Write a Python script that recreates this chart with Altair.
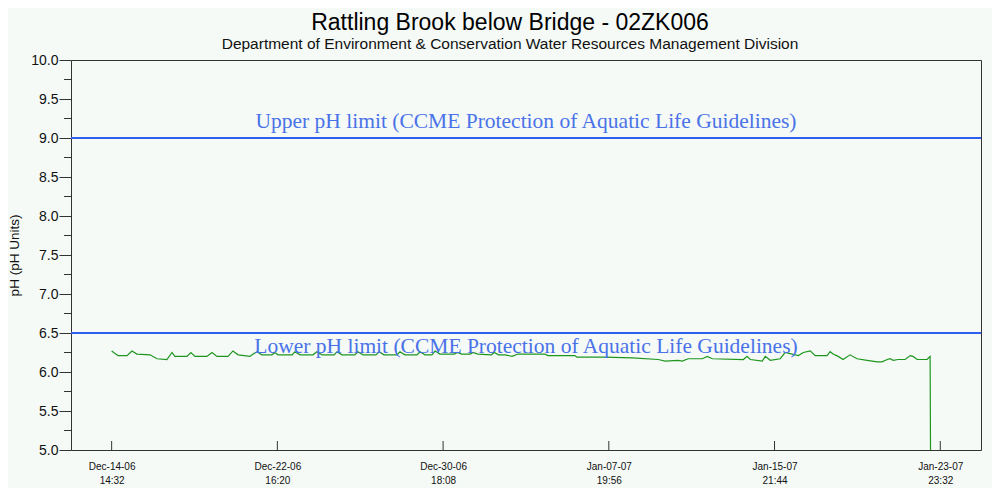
import altair as alt
import pandas as pd

# --- data ---
START = "2006-12-14 14:32"
# elapsed days since the first reading
day_offsets = [
    0.00, 0.31, 0.75, 0.99, 1.23, 1.87, 2.21, 2.69, 2.94, 3.08, 3.67, 3.86, 4.06,
    4.64, 4.89, 5.13, 5.67, 5.91, 6.16, 6.74, 6.84, 7.08, 7.32, 7.81, 7.96, 8.10,
    8.79, 8.93, 9.18, 9.81, 10.00, 10.25,
    10.84, 10.98, 11.22, 11.85, 12.00, 12.25, 12.88, 13.03, 13.27, 13.90, 14.05, 14.29,
    14.88, 15.02, 15.27, 15.61, 15.76, 16.00, 16.70, 16.85, 17.05, 17.47, 17.61, 17.85,
    18.50, 18.65, 18.85, 19.17, 19.51, 19.80,
    21.11, 21.26, 22.57, 22.67, 24.03, 25.36, 26.63,
    26.97, 27.61, 27.80, 28.09, 28.78, 29.02, 29.27, 30.78, 30.96, 31.12, 31.70, 31.85,
    32.09, 32.58, 32.82, 33.16, 33.46, 33.70, 34.04, 34.28, 34.86, 35.01, 35.15, 35.40,
    35.64, 35.98, 36.32, 36.81, 37.30, 37.54, 37.79, 37.93, 38.08, 38.32, 38.66, 38.91,
    39.05, 39.25, 39.73, 39.88, 39.90,
]
ph_values = [
    6.27, 6.21, 6.21, 6.27, 6.23, 6.22, 6.17, 6.16, 6.25, 6.20, 6.20, 6.25, 6.20,
    6.20, 6.25, 6.20, 6.20, 6.27, 6.22, 6.20, 6.22, 6.26, 6.22, 6.22, 6.25, 6.22,
    6.22, 6.26, 6.22, 6.22, 6.26, 6.22,
    6.22, 6.26, 6.22, 6.22, 6.26, 6.22, 6.22, 6.26, 6.22, 6.22, 6.26, 6.22,
    6.22, 6.26, 6.22, 6.22, 6.27, 6.23, 6.23, 6.25, 6.23, 6.23, 6.25, 6.23,
    6.22, 6.25, 6.22, 6.22, 6.20, 6.23,
    6.23, 6.21, 6.21, 6.19, 6.19, 6.18, 6.16,
    6.14, 6.15, 6.14, 6.17, 6.17, 6.20, 6.17, 6.16, 6.20, 6.16, 6.14, 6.20,
    6.15, 6.17, 6.25, 6.23, 6.21, 6.25, 6.27, 6.21, 6.21, 6.26, 6.23, 6.20,
    6.16, 6.22, 6.17, 6.15, 6.13, 6.13, 6.16, 6.17, 6.15, 6.16, 6.16, 6.21,
    6.20, 6.16, 6.16, 6.20, 5.00,
]
tick_times = ["2006-12-14 14:32", "2006-12-22 16:20", "2006-12-30 18:08",
              "2007-01-07 19:56", "2007-01-15 21:44", "2007-01-23 23:32"]
x_domain = ["2006-12-12 15:00", "2007-01-25 23:10"]
upper_limit = 9.0
lower_limit = 6.5
upper_label = "Upper pH limit (CCME Protection of Aquatic Life Guidelines)"
lower_label = "Lower pH limit (CCME Protection of Aquatic Life Guidelines)"
minor_ticks = [5.25, 5.75, 6.25, 6.75, 7.25, 7.75, 8.25, 8.75, 9.25, 9.75]
major_ticks = [5.0, 5.5, 6.0, 6.5, 7.0, 7.5, 8.0, 8.5, 9.0, 9.5, 10.0]

start = pd.Timestamp(START)
times = [start + pd.Timedelta(days=d) for d in day_offsets]
df = pd.DataFrame({"t": [t.strftime("%Y-%m-%dT%H:%M:%S") for t in times], "ph": ph_values})
ticks_df = pd.DataFrame({"t": [pd.Timestamp(s).strftime("%Y-%m-%dT%H:%M:%S") for s in tick_times]})
minor_df = pd.DataFrame({"y": minor_ticks})
limits_df = pd.DataFrame({"y": [upper_limit, lower_limit]})


def dt(s):
    p = pd.Timestamp(s)
    return alt.DateTime(year=p.year, month=p.month, date=p.day, hours=p.hour, minutes=p.minute)


W, H = 910, 390
FONT = "Liberation Sans"
BG = "#F5FAF7"

x_scale = alt.Scale(domain=[dt(x_domain[0]), dt(x_domain[1])], nice=False)
y_scale = alt.Scale(domain=[5, 10], nice=False, zero=False)

x_axis = alt.Axis(
    values=[dt(s) for s in tick_times],
    labelExpr="[timeFormat(datum.value, '%b-%d-%y'), timeFormat(datum.value, '%H:%M')]",
    tickSize=0, domain=False, grid=False, title=None,
    labelFont=FONT, labelFontSize=10, labelColor="#111", labelPadding=11,
    labelLineHeight=14, labelOverlap=False,
)
y_axis = alt.Axis(
    values=major_ticks, format=".1f", tickSize=12, tickColor="#333", domain=False,
    grid=False, title="pH (pH Units)", titleFont=FONT, titleFontSize=13.5,
    titleFontWeight="normal", titleColor="#111", titlePadding=9,
    labelFont=FONT, labelFontSize=14, labelColor="#111", labelPadding=1,
    labelOverlap=False,
)


def Y(field):
    return alt.Y(field, scale=y_scale, axis=y_axis)


def X(field):
    return alt.X(field, scale=x_scale, axis=x_axis)


line = alt.Chart(df).mark_line(color="#1E961E", strokeWidth=1.2).encode(
    x=X("t:T"), y=Y("ph:Q"),
)

limit_rules = alt.Chart(limits_df).mark_rule(color="#2F5FF0", strokeWidth=2).encode(
    y=Y("y:Q"),
)

upper_text = alt.Chart(pd.DataFrame({"y": [upper_limit], "label": [upper_label]})).mark_text(
    font="Liberation Serif", fontSize=21.5, color="#4A72E8", baseline="alphabetic", dy=-10,
).encode(x=alt.value(W / 2), y=Y("y:Q"), text="label:N")

lower_text = alt.Chart(pd.DataFrame({"y": [lower_limit], "label": [lower_label]})).mark_text(
    font="Liberation Serif", fontSize=21.5, color="#4A72E8", baseline="alphabetic", dy=20,
).encode(x=alt.value(W / 2), y=Y("y:Q"), text="label:N")

x_ticks = alt.Chart(ticks_df).mark_rule(color="#333", strokeWidth=1).encode(
    x=X("t:T"), y=alt.value(H - 9), y2=alt.value(H),
)

y_minor = alt.Chart(minor_df).mark_rule(color="#333", strokeWidth=1).encode(
    y=Y("y:Q"), x=alt.value(-7), x2=alt.value(0),
)

chart = alt.layer(line, limit_rules, upper_text, lower_text, x_ticks, y_minor).properties(
    width=W, height=H,
    background=BG,
    autosize=alt.AutoSizeParams(type="none"),
    padding={"left": 63, "top": 52, "right": 11, "bottom": 38},
    title=alt.TitleParams(
        text="Rattling Brook below Bridge - 02ZK006",
        subtitle="Department of Environment & Conservation Water Resources Management Division",
        font=FONT, fontSize=23, fontWeight="normal", color="#000",
        subtitleFont=FONT, subtitleFontSize=15.5, subtitleColor="#111",
        subtitlePadding=2, anchor="middle", frame="group", offset=1, dx=-16,
    ),
).configure_view(stroke="#333", strokeWidth=1, fill=BG)

chart.save("out.html", embed_options={"renderer": "svg", "actions": False})
